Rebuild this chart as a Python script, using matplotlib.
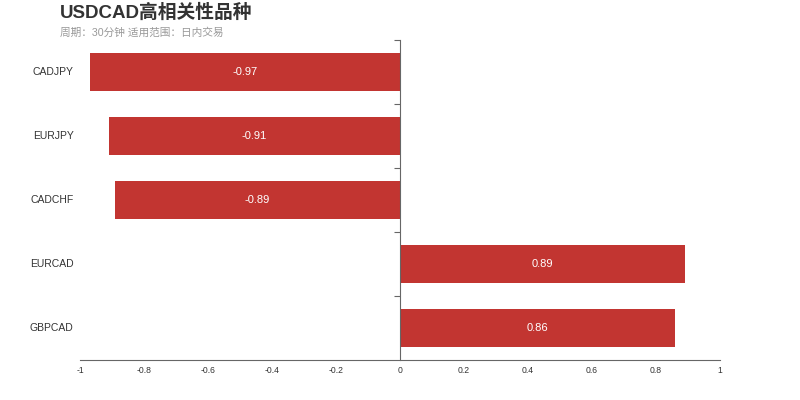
import matplotlib.pyplot as plt
import matplotlib.transforms as mtransforms

# data, top to bottom
symbols = ["CADJPY", "EURJPY", "CADCHF", "EURCAD", "GBPCAD"]
corr = [-0.97, -0.91, -0.89, 0.89, 0.86]
xticks = [-1, -0.8, -0.6, -0.4, -0.2, 0, 0.2, 0.4, 0.6, 0.8, 1]

fonts = ['Liberation Sans', 'Noto Sans CJK SC', 'DejaVu Sans']
plt.rcParams['font.family'] = fonts

fig = plt.figure(figsize=(8, 4), dpi=100)
ax = fig.add_axes([0.1, 0.1, 0.8, 0.8])

ypos = list(range(len(symbols)))[::-1]
ax.barh(ypos, corr, height=0.6, color='#c23531')
for y, v in zip(ypos, corr):
    ax.text(v / 2, y, f"{v:g}", color='white', fontsize=8,
            ha='center', va='center')

ax.set_xlim(-1, 1)
ax.set_ylim(-0.5, len(symbols) - 0.5)

ax.spines['top'].set_visible(False)
ax.spines['right'].set_visible(False)
ax.spines['left'].set_position(('data', 0))
ax.spines['left'].set_color('#666666')
ax.spines['bottom'].set_color('#666666')

ax.set_xticks(xticks)
ax.set_xticklabels([f"{t:g}" for t in xticks])
ax.tick_params(axis='x', length=0, labelsize=6.2, colors='#333333', pad=4)

# ticks on the y axis sit between the categories
ax.set_yticks([y + 0.5 for y in ypos])
ax.set_yticklabels([])
ax.tick_params(axis='y', length=4, color='#666666', direction='out')

trans = mtransforms.blended_transform_factory(ax.transAxes, ax.transData)
for y, s in zip(ypos, symbols):
    ax.text(-0.01, y, s, transform=trans, ha='right', va='center',
            fontsize=7.5, color='#333333')

fig.text(60 / 800, 1 - 12.5 / 400, "USDCAD高相关性品种", fontsize=13.5,
         fontweight='bold', color='#333333', ha='left', va='center')
fig.text(60 / 800, 1 - 33 / 400, "周期：30分钟 适用范围：日内交易", fontsize=7.7,
         color='#999999', ha='left', va='center')

fig.savefig('out.png', dpi=100)
